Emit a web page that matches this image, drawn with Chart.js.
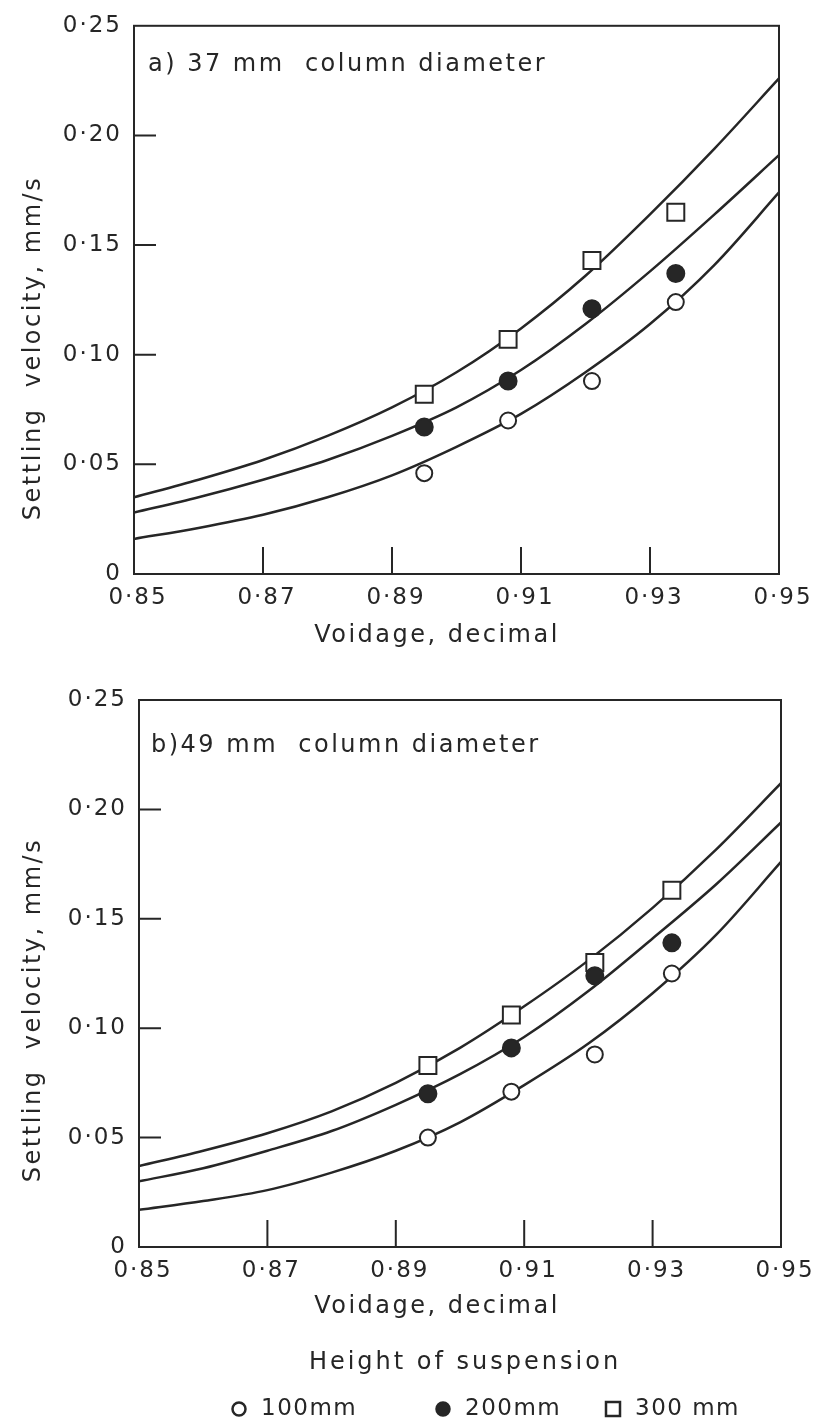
<!DOCTYPE html>
<html>
<head>
<meta charset="utf-8">
<title>Settling velocity vs voidage</title>
<script src="https://cdn.jsdelivr.net/npm/chart.js"></script>
<style>
  html, body { margin: 0; padding: 0; background: #fff; }
  body { width: 822px; height: 1424px; position: relative; overflow: hidden; }
  .panel { position: absolute; left: 0; width: 822px; }
  #panelA { top: 0; height: 660px; }
  #panelB { top: 660px; height: 764px; }
</style>
</head>
<body>
<div class="panel" id="panelA"><canvas id="chartA"></canvas></div>
<div class="panel" id="panelB"><canvas id="chartB"></canvas></div>

<script>
// axis ticks
const xTickValues = [0.85, 0.87, 0.89, 0.91, 0.93, 0.95];
const xTickLabels = ['0·85', '0·87', '0·89', '0·91', '0·93', '0·95'];
const yTickValues = [0, 0.05, 0.10, 0.15, 0.20, 0.25];
const yTickLabels = ['0', '0·05', '0·10', '0·15', '0·20', '0·25'];

// a) 37 mm column - measured points
const voidageA = [0.895, 0.908, 0.921, 0.934];
const h100A = [0.046, 0.070, 0.088, 0.124];
const h200A = [0.067, 0.088, 0.121, 0.137];
const h300A = [0.082, 0.107, 0.143, 0.165];

// b) 49 mm column - measured points
const voidageB = [0.895, 0.908, 0.921, 0.933];
const h100B = [0.050, 0.071, 0.088, 0.125];
const h200B = [0.070, 0.091, 0.124, 0.139];
const h300B = [0.083, 0.106, 0.130, 0.163];

// fitted curves
const curveX = [0.85, 0.86, 0.87, 0.88, 0.89, 0.90, 0.91, 0.92, 0.93, 0.94, 0.95];
const fit100A = [0.016, 0.021, 0.027, 0.035, 0.045, 0.058, 0.073, 0.092, 0.114, 0.141, 0.174];
const fit200A = [0.028, 0.035, 0.043, 0.052, 0.063, 0.076, 0.093, 0.114, 0.138, 0.164, 0.191];
const fit300A = [0.035, 0.043, 0.052, 0.063, 0.076, 0.092, 0.112, 0.136, 0.164, 0.194, 0.226];
const fit100B = [0.017, 0.021, 0.026, 0.034, 0.044, 0.057, 0.074, 0.093, 0.116, 0.143, 0.176];
const fit200B = [0.030, 0.036, 0.044, 0.053, 0.065, 0.079, 0.096, 0.117, 0.141, 0.166, 0.194];
const fit300B = [0.037, 0.044, 0.052, 0.062, 0.075, 0.091, 0.110, 0.131, 0.155, 0.182, 0.212];

const INK = '#262626';
const FONT = "'DejaVu Sans', sans-serif";

function toXY(xs, ys) {
  return xs.map((v, i) => ({ x: v, y: ys[i] }));
}

function pointSet(label, xs, ys, style, fill) {
  return {
    type: 'scatter',
    label: label,
    legendKey: true,
    data: toXY(xs, ys),
    pointStyle: style,
    pointRadius: style === 'rect' ? 12 : (fill === INK ? 8.5 : 8),
    pointBackgroundColor: fill,
    pointBorderColor: INK,
    pointBorderWidth: 2,
    backgroundColor: fill,
    borderColor: INK,
    showLine: false,
    order: 0
  };
}

function curveSet(xs, ys) {
  return {
    type: 'line',
    label: 'fit',
    data: toXY(xs, ys),
    borderColor: INK,
    borderWidth: 2.5,
    pointRadius: 0,
    cubicInterpolationMode: 'monotone',
    fill: false,
    order: 1
  };
}

// frame, inward ticks, note and axis titles
const panelText = {
  id: 'panelText',
  beforeLayout(chart) { chart.ctx.letterSpacing = '2px'; },
  beforeDraw(chart) { chart.ctx.letterSpacing = '2px'; },
  afterDraw(chart, args, opts) {
    const ctx = chart.ctx;
    const a = chart.chartArea;
    const x = chart.scales.x;
    const y = chart.scales.y;

    ctx.save();
    ctx.strokeStyle = INK;
    ctx.lineWidth = 2;
    ctx.strokeRect(a.left, a.top, a.right - a.left, a.bottom - a.top);

    ctx.beginPath();
    x.ticks.slice(1, -1).forEach(t => {
      const px = x.getPixelForValue(t.value);
      ctx.moveTo(px, a.bottom);
      ctx.lineTo(px, a.bottom - 27);
    });
    y.ticks.slice(1, -1).forEach(t => {
      const py = y.getPixelForValue(t.value);
      ctx.moveTo(a.left, py);
      ctx.lineTo(a.left + 22, py);
    });
    ctx.stroke();

    ctx.fillStyle = INK;
    ctx.letterSpacing = '2.5px';
    ctx.font = '24px ' + FONT;
    ctx.textBaseline = 'middle';

    ctx.textAlign = 'left';
    ctx.fillText(opts.note, opts.noteX, opts.noteY);

    ctx.textAlign = 'center';
    ctx.fillText('Voidage, decimal', opts.xTitleX, opts.xTitleY);

    ctx.save();
    ctx.translate(opts.yTitleX, opts.yTitleY);
    ctx.rotate(-Math.PI / 2);
    ctx.fillText('Settling  velocity, mm/s', 0, 0);
    ctx.restore();

    ctx.restore();
  }
};

// legend under the lower panel
const suspensionLegend = {
  id: 'suspensionLegend',
  afterDraw(chart, args, opts) {
    if (!opts.show) return;
    const ctx = chart.ctx;
    ctx.save();
    ctx.strokeStyle = INK;
    ctx.lineWidth = 2.5;
    ctx.fillStyle = INK;
    ctx.letterSpacing = '3px';
    ctx.font = '24px ' + FONT;
    ctx.textAlign = 'center';
    ctx.textBaseline = 'middle';
    ctx.fillText('Height of suspension', opts.titleX, opts.titleY);

    ctx.letterSpacing = '1.5px';
    ctx.font = '23px ' + FONT;
    ctx.textAlign = 'left';
    chart.data.datasets.filter(d => d.legendKey).forEach((d, i) => {
      const cx = opts.itemX[i];
      const cy = opts.itemY;
      ctx.beginPath();
      if (d.pointStyle === 'rect') {
        ctx.rect(cx - 7, cy - 7, 14, 14);
      } else {
        ctx.arc(cx, cy, 6.5, 0, Math.PI * 2);
      }
      ctx.fillStyle = d.pointBackgroundColor;
      ctx.fill();
      ctx.stroke();
      ctx.fillStyle = INK;
      ctx.fillText(d.label, cx + 22, cy);
    });
    ctx.restore();
  }
};

function panelOptions(pad, yWidth, xHeight, text, legend) {
  return {
    responsive: true,
    maintainAspectRatio: false,
    animation: false,
    devicePixelRatio: 1,
    layout: { padding: pad },
    plugins: {
      legend: { display: false },
      tooltip: { enabled: false },
      panelText: text,
      suspensionLegend: legend
    },
    scales: {
      x: {
        type: 'linear',
        min: 0.85,
        max: 0.95,
        grid: { display: false, drawTicks: false },
        border: { display: false },
        afterBuildTicks: s => { s.ticks = xTickValues.map(v => ({ value: v })); },
        afterFit: s => { s.height = xHeight; },
        ticks: {
          autoSkip: false,
          maxRotation: 0,
          padding: 10,
          labelOffset: 4,
          color: INK,
          font: { family: FONT, size: 23 },
          callback: (v, i) => xTickLabels[i]
        }
      },
      y: {
        min: 0,
        max: 0.25,
        grid: { display: false, drawTicks: false },
        border: { display: false },
        afterBuildTicks: s => { s.ticks = yTickValues.map(v => ({ value: v })); },
        afterFit: s => { s.width = yWidth; },
        ticks: {
          padding: 12,
          color: INK,
          font: { family: FONT, size: 23 },
          callback: (v, i) => yTickLabels[i]
        }
      }
    }
  };
}

const chartA = new Chart(document.getElementById('chartA'), {
  type: 'scatter',
  data: {
    datasets: [
      pointSet('100mm', voidageA, h100A, 'circle', '#ffffff'),
      pointSet('200mm', voidageA, h200A, 'circle', INK),
      pointSet('300 mm', voidageA, h300A, 'rect', '#ffffff'),
      curveSet(curveX, fit100A),
      curveSet(curveX, fit200A),
      curveSet(curveX, fit300A)
    ]
  },
  options: panelOptions(
    { top: 21, right: 43, left: 0, bottom: 0 }, 134, 86,
    { note: 'a) 37 mm  column diameter', noteX: 148, noteY: 65,
      xTitleX: 437, xTitleY: 636, yTitleX: 34, yTitleY: 348 },
    { show: false }
  ),
  plugins: [panelText, suspensionLegend]
});

const chartB = new Chart(document.getElementById('chartB'), {
  type: 'scatter',
  data: {
    datasets: [
      pointSet('100mm', voidageB, h100B, 'circle', '#ffffff'),
      pointSet('200mm', voidageB, h200B, 'circle', INK),
      pointSet('300 mm', voidageB, h300B, 'rect', '#ffffff'),
      curveSet(curveX, fit100B),
      curveSet(curveX, fit200B),
      curveSet(curveX, fit300B)
    ]
  },
  options: panelOptions(
    { top: 40, right: 41, left: 0, bottom: 0 }, 139, 177,
    { note: 'b)49 mm  column diameter', noteX: 151, noteY: 86,
      xTitleX: 437, xTitleY: 647, yTitleX: 34, yTitleY: 350 },
    { show: true, titleX: 465, titleY: 703, itemX: [239, 443, 613], itemY: 749 }
  ),
  plugins: [panelText, suspensionLegend]
});
</script>
</body>
</html>
